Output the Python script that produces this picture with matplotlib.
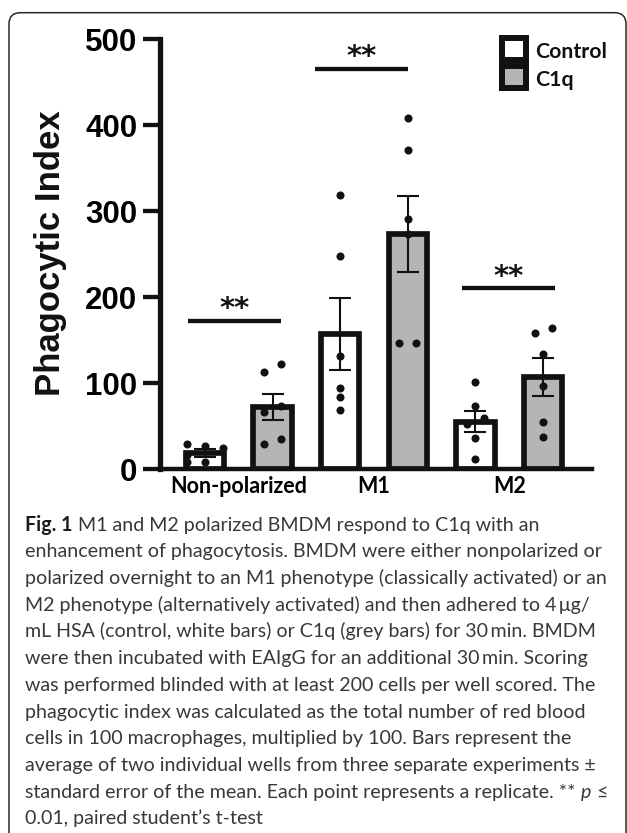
import matplotlib
matplotlib.use("Agg")
import matplotlib.pyplot as plt
from matplotlib.patches import Rectangle, FancyBboxPatch
import numpy as np

# ---------------- data ----------------
groups = ["Non-polarized", "M1", "M2"]
series = ["Control", "C1q"]
means_control = [19, 157.5, 55.5]
sem_control = [4.5, 41.5, 12.5]
means_c1q = [72.5, 273.5, 107.5]
sem_c1q = [15.5, 44.5, 22]
points_control = [
    [29.4, 27.5, 24.4, 16.6, 8.8, 8.0],
    [319, 248, 132, 95, 84.5, 69],
    [102, 74, 60, 52.7, 36, 12],
]
points_c1q = [
    [112.8, 122, 74, 66.3, 29.4, 35.2],
    [409, 371, 291, 274, 147, 147],
    [158.8, 164.7, 133.7, 97.2, 55.4, 38],
]
sig_labels = ["**", "**", "**"]
sig_values = [172.5, 466, 210.5]
yticks = [0, 100, 200, 300, 400, 500]
ylabel = "Phagocytic Index"

caption_lines = [
    [("Fig. 1", "bold"), (" M1 and M2 polarized BMDM respond to C1q with an", "normal")],
    [("enhancement of phagocytosis. BMDM were either nonpolarized or", "normal")],
    [("polarized overnight to an M1 phenotype (classically activated) or an", "normal")],
    [("M2 phenotype (alternatively activated) and then adhered to 4\u2009\u03bcg/", "normal")],
    [("mL HSA (control, white bars) or C1q (grey bars) for 30\u2009min. BMDM", "normal")],
    [("were then incubated with EAIgG for an additional 30\u2009min. Scoring", "normal")],
    [("was performed blinded with at least 200 cells per well scored. The", "normal")],
    [("phagocytic index was calculated as the total number of red blood", "normal")],
    [("cells in 100 macrophages, multiplied by 100. Bars represent the", "normal")],
    [("average of two individual wells from three separate experiments \u00b1", "normal")],
    [("standard error of the mean. Each point represents a replicate. ** ", "normal"),
     ("p", "italic"), (" \u2264", "normal")],
    [("0.01, paired student\u2019s t-test", "normal")],
]

# ---------------- layout ----------------
W, H = 627, 833
def fx(px):
    return px / W
def fy(py):
    return 1 - py / H

jitter_control = [
    [-0.26, 0, 0.27, -0.26, 0, -0.26],
    [0, 0, 0, 0, 0, 0],
    [0, 0, 0.13, -0.12, 0, 0],
]
jitter_c1q = [
    [-0.12, 0.13, 0.13, -0.12, -0.12, 0.13],
    [0, 0, 0, 0, -0.13, 0.12],
    [-0.12, 0.13, 0, 0, 0, 0],
]
sig_spans = [(-0.25, 1.12), (1.63, 3.01), (3.80, 5.18)]

fig = plt.figure(figsize=(6.27, 8.33), dpi=100)
fig.patch.set_facecolor("white")

# outer rounded frame
frame = FancyBboxPatch((fx(9), fy(845)), fx(626) - fx(9), fy(12.7) - fy(845),
                       boxstyle="round,pad=0,rounding_size=0.018",
                       transform=fig.transFigure, fill=False,
                       edgecolor="#2a2a2a", linewidth=1.1, mutation_aspect=627/833)
fig.add_artist(frame)

ax = fig.add_axes([fx(159.5), fy(469.3), fx(592) - fx(159.5), fy(39.3) - fy(469.3)])
ax.set_facecolor("none")

x_ctrl = np.array([0, 2, 4], dtype=float)
x_c1q = np.array([1, 3, 5], dtype=float)
bar_w = 0.567
edge_lw = 4.1

ax.bar(x_ctrl, means_control, width=bar_w, color="white", edgecolor="#111111",
       linewidth=edge_lw, zorder=2)
ax.bar(x_c1q, means_c1q, width=bar_w, color="#b5b5b5", edgecolor="#111111",
       linewidth=edge_lw, zorder=2)

for xs, pts, jit in [(x_ctrl, points_control, jitter_control), (x_c1q, points_c1q, jitter_c1q)]:
    for xc, vals, js in zip(xs, pts, jit):
        ax.plot(xc + np.array(js), vals, "o", color="#111111", markersize=5.8,
                markeredgewidth=0, zorder=4, clip_on=False)

ax.errorbar(x_ctrl, means_control, yerr=sem_control, fmt="none", ecolor="#111111",
            elinewidth=1.5, capsize=7.8, capthick=1.5, zorder=5)
ax.errorbar(x_c1q, means_c1q, yerr=sem_c1q, fmt="none", ecolor="#111111",
            elinewidth=1.5, capsize=7.8, capthick=1.5, zorder=5)

for (x0, x1), v, lab in zip(sig_spans, sig_values, sig_labels):
    ax.plot([x0, x1], [v, v], color="#111111", linewidth=3.1, solid_capstyle="butt",
            zorder=3, clip_on=False)
    ax.annotate(lab, xy=((x0 + x1) / 2, v), xytext=(0, 2.7), textcoords="offset points",
                ha="center", va="baseline", fontsize=21, fontweight="bold",
                family="DejaVu Sans", color="#111111", annotation_clip=False)

ax.set_xlim(-0.673, 5.725)
ax.set_ylim(0, 500)
ax.set_yticks(yticks)
ax.set_yticklabels([str(t) for t in yticks], family="Liberation Sans",
                   fontweight="bold", fontsize=22.5)
ax.tick_params(axis="y", length=12, width=3.1, pad=4, color="#111111")
ax.set_xticks((x_ctrl + x_c1q) / 2)
ax.set_xticklabels(groups, family="Lato", fontweight="bold", fontsize=15.5)
ax.tick_params(axis="x", length=0, pad=5)

for s in ["top", "right"]:
    ax.spines[s].set_visible(False)
ax.spines["left"].set_linewidth(3.8)
ax.spines["bottom"].set_linewidth(3.2)
ax.spines["left"].set_color("#111111")
ax.spines["bottom"].set_color("#111111")

fig.text(fx(51), fy(253.3), ylabel, rotation=90, ha="center", va="center",
         family="Liberation Sans", fontweight="bold", fontsize=25, color="#111111")

# legend (manual)
leg_colors = ["white", "#b5b5b5"]
leg_tops = [38, 66]
leg_baselines = [58.3, 85.7]
for lab, col, top, base in zip(series, leg_colors, leg_tops, leg_baselines):
    r = Rectangle((fx(502.3), fy(top + 22)), fx(525.7) - fx(502.3), fy(top) - fy(top + 22),
                  transform=fig.transFigure, facecolor=col, edgecolor="#111111",
                  linewidth=4.3)
    fig.add_artist(r)
    fig.text(fx(535.3), fy(base), lab, ha="left", va="baseline", family="Lato",
             fontweight="bold", fontsize=15.3, color="#111111")

# caption
renderer = fig.canvas.get_renderer()
cap_font = "Lato"
cap_weight = "normal"
base_size = 12.0
probe = fig.text(0, 0, caption_lines[2][0][0], family=cap_font, fontsize=base_size,
                 fontweight=cap_weight)
w_probe = probe.get_window_extent(renderer).width
probe.remove()
cap_size = base_size * 581.0 / w_probe

def measure(s, **kw):
    t = fig.text(0, 0, s, **kw)
    w = t.get_window_extent(renderer).width
    t.remove()
    return w

space_w = (measure("x x", family=cap_font, fontsize=cap_size, fontweight=cap_weight)
           - measure("xx", family=cap_font, fontsize=cap_size, fontweight=cap_weight))

y0 = 530.7
dy = 26.7
for i, line in enumerate(caption_lines):
    x = 25.0
    y = y0 + i * dy
    for text, style in line:
        lead = len(text) - len(text.lstrip(" "))
        trail = len(text) - len(text.rstrip(" "))
        core = text.strip(" ")
        x += lead * space_w
        kw = dict(family=cap_font, fontsize=cap_size, color="#383838", fontweight=cap_weight)
        if style == "bold":
            kw["fontweight"] = "bold"
            kw["color"] = "#1a1a1a"
        elif style == "italic":
            kw["fontstyle"] = "italic"
        t = fig.text(fx(x), fy(y), core, ha="left", va="baseline", **kw)
        x += t.get_window_extent(renderer).width + trail * space_w

fig.savefig("out.png", dpi=100)
